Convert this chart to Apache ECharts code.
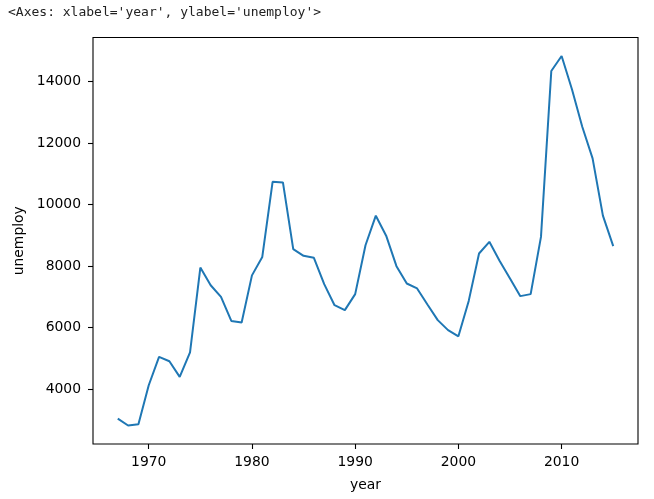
<!DOCTYPE html>
<html>
<head>
<meta charset="utf-8">
<script src="https://cdn.jsdelivr.net/npm/echarts@6/dist/echarts.min.js"></script>
<style>html,body{margin:0;padding:0;background:#fff;}#c{width:654px;height:499px;}</style>
</head>
<body>
<div id="c"></div>
<script>
var years = [1967,1968,1969,1970,1971,1972,1973,1974,1975,1976,1977,1978,1979,1980,1981,1982,1983,1984,1985,1986,1987,1988,1989,1990,1991,1992,1993,1994,1995,1996,1997,1998,1999,2000,2001,2002,2003,2004,2005,2006,2007,2008,2009,2010,2011,2012,2013,2014,2015];
var unemploy = [3047,2820,2862,4130,5050,4910,4400,5200,7955,7380,7000,6220,6170,7700,8300,10740,10720,8550,8335,8270,7415,6730,6570,7090,8680,9640,8990,8000,7435,7275,6755,6245,5920,5720,6870,8410,8790,8170,7600,7025,7090,8950,14340,14830,13750,12530,11500,9640,8650];
var xTicks = [1970,1980,1990,2000,2010];
var yTicks = [4000,6000,8000,10000,12000,14000];
var header = "<Axes: xlabel='year', ylabel='unemploy'>";

var chart = echarts.init(document.getElementById('c'), null, {renderer:'canvas'});
var font = 'DejaVu Sans';
function plain(v){ return String(Math.round(v)); }
chart.setOption({
  animation: false,
  title: {
    text: header, left: 8, top: 6, padding: 0,
    textStyle: {fontFamily: 'DejaVu Sans Mono', fontSize: 13, fontWeight: 'normal', color: '#222'}
  },
  grid: {left: 93, right: 16, top: 37.5, bottom: 55, show: true, borderColor: '#000', borderWidth: 1.1, backgroundColor: '#fff'},
  xAxis: {
    type: 'value', min: 1964.6, max: 2017.4,
    name: 'year', nameLocation: 'middle', nameGap: 34,
    nameTextStyle: {fontFamily: font, fontSize: 13.9, color: '#000'},
    axisLine: {show: false},
    splitLine: {show: false},
    axisTick: {show: true, length: 5, lineStyle: {color: '#000', width: 1.1}, customValues: xTicks},
    axisLabel: {fontFamily: font, fontSize: 13.9, color: '#000', margin: 11, customValues: xTicks, formatter: plain}
  },
  yAxis: {
    type: 'value', min: 2220, max: 15430,
    name: 'unemploy', nameLocation: 'middle', nameGap: 66,
    nameTextStyle: {fontFamily: font, fontSize: 13.9, color: '#000'},
    axisLine: {show: false},
    splitLine: {show: false},
    axisTick: {show: true, length: 5, lineStyle: {color: '#000', width: 1.1}, customValues: yTicks},
    axisLabel: {fontFamily: font, fontSize: 13.9, color: '#000', margin: 12, customValues: yTicks, formatter: plain}
  },
  series: [{
    type: 'line',
    data: years.map(function(y, i){ return [y, unemploy[i]]; }),
    showSymbol: false, symbol: 'none',
    lineStyle: {color: '#1f77b4', width: 2},
    itemStyle: {color: '#1f77b4'}
  }]
});
</script>
</body>
</html>
